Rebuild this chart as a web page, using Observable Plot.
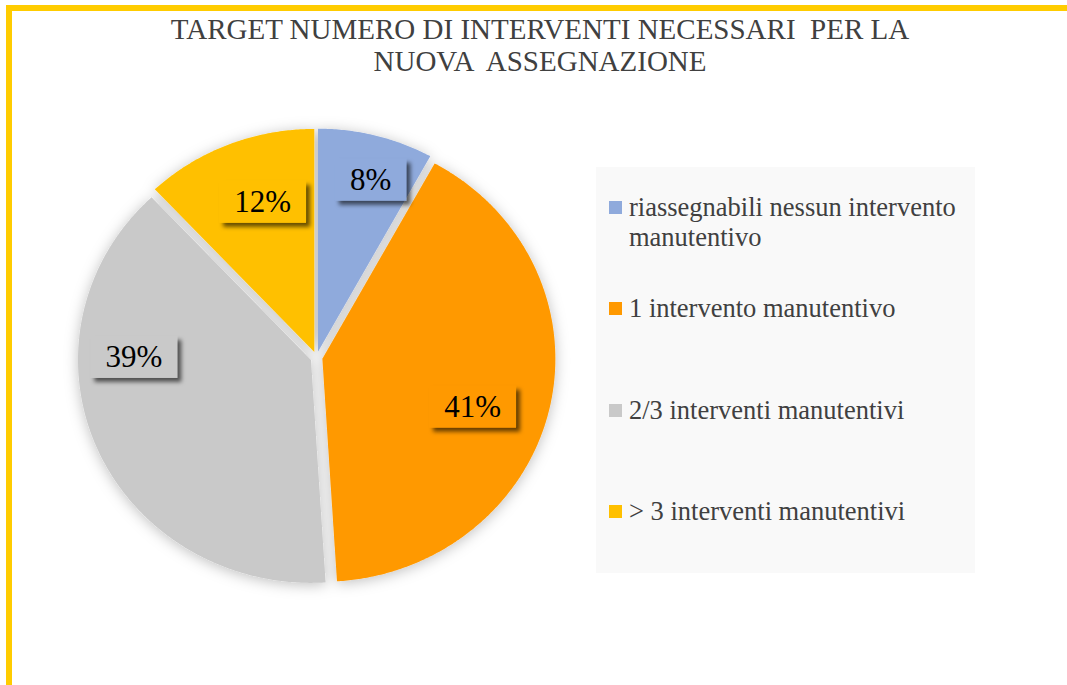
<!DOCTYPE html>
<html>
<head>
<meta charset="utf-8">
<script src="https://cdn.jsdelivr.net/npm/d3@7"></script>
<script src="https://cdn.jsdelivr.net/npm/@observablehq/plot@0.6"></script>
<style>
  html, body { margin: 0; padding: 0; background: #fff; }
  #page { position: relative; width: 1067px; height: 685px; overflow: hidden; background: #fff; font-family: "Liberation Serif", "Tinos", "Times New Roman", "DejaVu Serif", serif; }
  #frame { position: absolute; left: 6px; top: 5px; right: -10px; bottom: -10px; border-top: 6px solid #FFCC00; border-left: 6px solid #FFCC00; }
  #title { position: absolute; left: 40px; width: 1000px; top: 13px; text-align: center; color: #404040; font-size: 29px; line-height: 32px; white-space: pre; }
  #legend { position: absolute; left: 596px; top: 167px; width: 379px; height: 406px; background: #F9F9F9; }
  .item { position: absolute; left: 13px; width: 360px; font-size: 26.5px; line-height: 30px; color: #404040; }
  .sw { position: absolute; left: 0; top: 9px; width: 13px; height: 13px; }
  .txt { position: absolute; left: 20px; top: 0; width: 350px; white-space: nowrap; }
  #pie { position: absolute; }
</style>
</head>
<body>
<div id="page">
  <div id="frame"></div>
  <div id="title"></div>
  <div id="pie"></div>
  <div id="legend"></div>
</div>
<script>
// ---- data ----
const titleLines = ["TARGET NUMERO DI INTERVENTI NECESSARI  PER LA", "NUOVA  ASSEGNAZIONE"];
const categories = [
  "riassegnabili nessun intervento manutentivo",
  "1 intervento manutentivo",
  "2/3 interventi manutentivi",
  "> 3 interventi manutentivi"
];
const values = [8, 41, 39, 12];
const valueLabels = ["8%", "41%", "39%", "12%"];
const legendLines = [
  ["riassegnabili nessun intervento", "manutentivo"],
  ["1 intervento manutentivo"],
  ["2/3 interventi manutentivi"],
  ["> 3 interventi manutentivi"]
];
const colors = ["#8FAADC", "#FF9900", "#C9C9C9", "#FFC000"];

// ---- layout ----
const serif = '"Liberation Serif", "Tinos", "Times New Roman", "DejaVu Serif", serif';
const cx = 316, cy = 357, rx = 233, ry = 223, pad = 30, explode = 6;
const labelAngleDeg = [16.3, 108.4, 270, 341.6];
const labelRadius = [0.828, 0.706, 0.784, 0.733];
const legendTops = [25, 126, 228, 329];

// title
document.getElementById("title").textContent = titleLines.join("\n");

// legend
const legend = document.getElementById("legend");
categories.forEach((c, i) => {
  const it = document.createElement("div");
  it.className = "item";
  it.style.top = legendTops[i] + "px";
  const sw = document.createElement("div");
  sw.className = "sw";
  sw.style.background = colors[i];
  const tx = document.createElement("div");
  tx.className = "txt";
  tx.innerHTML = legendLines[i].map(s => s.replace(/&/g,"&amp;").replace(/</g,"&lt;").replace(/>/g,"&gt;")).join("<br>");
  it.appendChild(sw); it.appendChild(tx);
  legend.appendChild(it);
});

// pie geometry from values
const arcs = d3.pie().sort(null).value(d => d)(values);
const pts = [];
arcs.forEach((a, i) => {
  const mid = (a.startAngle + a.endAngle) / 2;
  const ox = Math.sin(mid) * explode / rx, oy = Math.cos(mid) * explode / ry;
  const cat = categories[i];
  pts.push({cat, x: ox, y: oy});
  const n = Math.max(2, Math.ceil((a.endAngle - a.startAngle) / (Math.PI / 360)));
  for (let k = 0; k <= n; k++) {
    const t = a.startAngle + (a.endAngle - a.startAngle) * k / n;
    pts.push({cat, x: ox + Math.sin(t), y: oy + Math.cos(t)});
  }
  pts.push({cat, x: ox, y: oy});
});
const labelData = categories.map((c, i) => {
  const t = labelAngleDeg[i] * Math.PI / 180;
  return {cat: c, text: valueLabels[i], x: labelRadius[i] * Math.sin(t), y: labelRadius[i] * Math.cos(t)};
});

const W = 2 * (rx + pad), H = 2 * (ry + pad);
const X = (rx + pad) / rx, Y = (ry + pad) / ry;
const svg = Plot.plot({
  width: W, height: H, margin: 0,
  style: {background: "transparent", overflow: "visible"},
  x: {domain: [-X, X], axis: null},
  y: {domain: [-Y, Y], axis: null},
  color: {domain: categories, range: colors},
  marks: [
    Plot.line(pts, {x: "x", y: "y", z: "cat", fill: "cat", stroke: "none", curve: "linear"}),
    Plot.text(labelData, {x: "x", y: "y", text: "text", fontSize: 31, fontFamily: serif, fill: "#000"})
  ]
});
const pieDiv = document.getElementById("pie");
pieDiv.style.left = (cx - rx - pad) + "px";
pieDiv.style.top = (cy - ry - pad) + "px";
pieDiv.style.width = W + "px";
pieDiv.style.height = H + "px";
pieDiv.appendChild(svg);

// decorations: soft pie shadow and label box shadows
const s = d3.select(svg);
const defs = s.insert("defs", ":first-child");
const f1 = defs.append("filter").attr("id", "pieShadow").attr("x", "-20%").attr("y", "-20%").attr("width", "140%").attr("height", "140%");
f1.append("feDropShadow").attr("dx", 0).attr("dy", 2).attr("stdDeviation", 7).attr("flood-color", "#000").attr("flood-opacity", 0.25);
const f2 = defs.append("filter").attr("id", "lblShadow").attr("x", "-30%").attr("y", "-30%").attr("width", "160%").attr("height", "160%");
f2.append("feDropShadow").attr("dx", 4).attr("dy", 4).attr("stdDeviation", 2).attr("flood-color", "#000").attr("flood-opacity", 0.6);
s.select('g[aria-label="line"]').attr("filter", "url(#pieShadow)");
const textG = s.select('g[aria-label="text"]');
textG.selectAll("text").each(function(d, j) {
  const bb = this.getBBox();
  const tr = this.getAttribute("transform");
  const r = d3.select(this.parentNode).insert("rect", () => this)
    .attr("x", bb.x - 15).attr("y", bb.y + bb.height / 2 - 21)
    .attr("width", bb.width + 30).attr("height", 42)
    .attr("fill", colors[j]).attr("filter", "url(#lblShadow)");
  if (tr) r.attr("transform", tr);
});
</script>
</body>
</html>
